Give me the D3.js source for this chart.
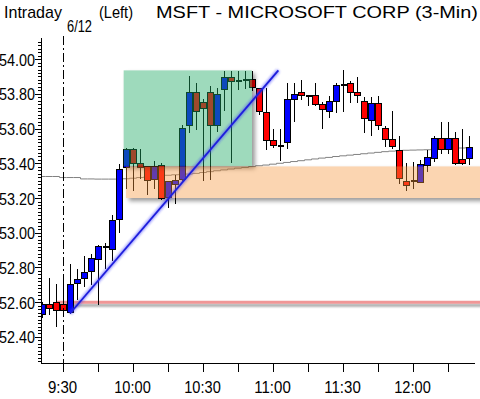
<!DOCTYPE html>
<html>
<head>
<meta charset="utf-8">
<script src="https://cdn.jsdelivr.net/npm/d3@7"></script>
<style>
body { margin: 0; background: #fff; }
svg { display: block; }
</style>
</head>
<body>
<div id="chart"></div>
<script>
// 3-min candles, MSFT 6/12
var times = ["9:21","9:24","9:27","9:30","9:33","9:36","9:39","9:42","9:45","9:48","9:51","9:54",
  "9:57","10:00","10:03","10:06","10:09","10:12","10:15","10:18","10:21","10:24","10:27","10:30",
  "10:33","10:36","10:39","10:42","10:45","10:48","10:51","10:54","10:57","11:00","11:03","11:06",
  "11:09","11:12","11:15","11:18","11:21","11:24","11:27","11:30","11:33","11:36","11:39","11:42",
  "11:45","11:48","11:51","11:54","11:57","12:00","12:03","12:06","12:09","12:12","12:15","12:18",
  "12:21","12:24"];
var opens = [52.53,52.585,52.60,52.585,52.54,52.705,52.735,52.775,52.845,52.918,52.905,53.075,
  53.375,53.48,53.40,53.38,53.305,53.385,53.205,53.28,53.305,53.62,53.805,53.75,
  53.805,53.62,53.825,53.895,53.872,53.882,53.885,53.83,53.695,53.53,53.50,53.52,
  53.77,53.805,53.79,53.79,53.74,53.70,53.757,53.853,53.86,53.805,53.755,53.645,
  53.745,53.60,53.535,53.475,53.295,53.296,53.29,53.385,53.43,53.545,53.48,53.545,
  53.42,53.425];
var highs = [52.60,52.74,52.705,52.72,52.82,52.79,52.865,52.88,52.93,52.94,53.10,53.395,
  53.49,53.49,53.48,53.385,53.415,53.40,53.30,53.33,53.62,53.905,53.865,53.77,
  53.845,53.835,53.93,53.93,53.93,53.93,53.93,53.835,53.835,53.60,53.595,53.86,
  53.86,53.88,53.795,53.865,53.755,53.785,53.86,53.94,53.872,53.895,53.78,53.78,
  53.79,53.615,53.70,53.56,53.40,53.41,53.42,53.475,53.56,53.64,53.64,53.58,
  53.60,53.56];
var lows = [52.51,52.525,52.46,52.53,52.535,52.615,52.69,52.70,52.585,52.79,52.835,53.00,
  53.25,53.24,53.31,53.215,53.25,53.19,53.14,53.165,53.30,53.575,53.59,53.30,
  53.305,53.58,53.70,53.40,53.82,53.83,53.815,53.68,53.475,53.49,53.415,53.48,
  53.64,53.765,53.73,53.73,53.60,53.66,53.69,53.695,53.75,53.75,53.575,53.56,
  53.59,53.495,53.48,53.28,53.24,53.25,53.285,53.35,53.405,53.455,53.455,53.39,
  53.39,53.39];
var closes = [52.585,52.565,52.555,52.555,52.70,52.73,52.77,52.85,52.92,52.918,53.07,53.365,
  53.48,53.40,53.375,53.30,53.38,53.195,53.295,53.30,53.60,53.805,53.70,53.715,
  53.62,53.795,53.895,53.87,53.872,53.882,53.835,53.70,53.53,53.50,53.50,53.765,
  53.795,53.79,53.79,53.74,53.71,53.755,53.847,53.853,53.81,53.79,53.66,53.745,
  53.615,53.535,53.497,53.315,53.275,53.296,53.395,53.435,53.545,53.48,53.545,53.40,
  53.40,53.49];
// grey average line, one value per candle
var avgLine = [53.324,53.324,53.324,53.318,53.318,53.318,53.310,53.310,53.309,53.309,53.309,53.309,
  53.311,53.314,53.318,53.321,53.324,53.327,53.331,53.334,53.336,53.338,53.342,53.347,
  53.352,53.357,53.362,53.367,53.372,53.376,53.381,53.386,53.390,53.395,53.400,53.405,
  53.410,53.415,53.420,53.425,53.430,53.434,53.439,53.443,53.447,53.451,53.455,53.459,
  53.463,53.467,53.470,53.474,53.475,53.476,53.477,53.478,53.480,53.482,53.484,53.486,
  53.488,53.490];

var yTicks = [52.40,52.60,52.80,53.00,53.20,53.40,53.60,53.80,54.00];
var xTicks = ["9:30","9:45","10:00","10:15","10:30","10:45","11:00","11:15","11:30","11:45","12:00","12:15"];
var xLabels = ["9:30","10:00","10:30","11:00","11:30","12:00"];

// drawn objects
var greenBoxTime = ["9:56","10:51"], greenBoxPrice = [53.385, 53.935];
var bandTime = ["9:57","12:30"], bandPrice = [53.20, 53.382];
var supportTime = ["9:27","12:30"], supportPrice = 52.60;
var trendTime = ["9:33","11:02.3"], trendPrice = [52.535, 53.935];

var W = 480, H = 399;
var toMin = function(s) { var p = s.split(":"); return +p[0] * 60 + +p[1]; };

var x = d3.scaleLinear().domain([toMin("9:21"), toMin("12:24")]).range([42, 469]);
var y = d3.scaleLinear().domain([52.25, 54.11]).range([363, 40]);

var svg = d3.select("#chart").append("svg").attr("width", W).attr("height", H);
var defs = svg.append("defs");

defs.append("clipPath").attr("id", "plot")
  .append("rect").attr("x", 41).attr("y", 30).attr("width", 440).attr("height", 333);

// shadow outside of a shape only
var fo = defs.append("filter").attr("id", "outShadow").attr("filterUnits", "userSpaceOnUse")
  .attr("x", 0).attr("y", 0).attr("width", W).attr("height", H);
fo.append("feGaussianBlur").attr("in", "SourceAlpha").attr("stdDeviation", 2).attr("result", "b");
fo.append("feOffset").attr("in", "b").attr("dx", 3).attr("dy", 3).attr("result", "o");
fo.append("feComposite").attr("in", "o").attr("in2", "SourceAlpha").attr("operator", "out").attr("result", "s");
fo.append("feFlood").attr("flood-color", "#000").attr("flood-opacity", 0.4).attr("result", "f");
fo.append("feComposite").attr("in", "f").attr("in2", "s").attr("operator", "in");

var fb = defs.append("filter").attr("id", "blur").attr("filterUnits", "userSpaceOnUse")
  .attr("x", 0).attr("y", 0).attr("width", W).attr("height", H);
fb.append("feGaussianBlur").attr("stdDeviation", 1.3);

var plot = svg.append("g").attr("clip-path", "url(#plot)");

// dashed date line
svg.append("line")
  .attr("x1", Math.round(x(toMin("9:30"))) + 0.5).attr("x2", Math.round(x(toMin("9:30"))) + 0.5)
  .attr("y1", 36).attr("y2", 363)
  .attr("stroke", "#000").attr("stroke-dasharray", "9,3,2,3");

// average line
var avgPts = avgLine.map(function(v, i) { return [x(toMin(times[i])), y(v)]; });
avgPts.unshift([41, y(avgLine[0])]);
avgPts.push([473, y(avgLine[avgLine.length - 1])]);
plot.append("path")
  .attr("d", d3.line().curve(d3.curveStep)(avgPts))
  .attr("fill", "none").attr("stroke", "#808080").attr("stroke-width", 1);

// support line with shadow
plot.append("line")
  .attr("x1", x(toMin(supportTime[0]))).attr("x2", x(toMin(supportTime[1])))
  .attr("y1", y(supportPrice) + 3).attr("y2", y(supportPrice) + 3)
  .attr("stroke", "#000").attr("stroke-opacity", 0.35).attr("stroke-width", 3)
  .attr("filter", "url(#blur)");
plot.append("line")
  .attr("x1", x(toMin(supportTime[0]))).attr("x2", x(toMin(supportTime[1])))
  .attr("y1", y(supportPrice)).attr("y2", y(supportPrice))
  .attr("stroke", "rgb(240,150,150)").attr("stroke-width", 3);

// candles
var candles = times.map(function(t, i) {
  return { t: toMin(t), o: opens[i], h: highs[i], l: lows[i], c: closes[i] };
});
var cg = plot.append("g").attr("shape-rendering", "crispEdges");
candles.forEach(function(d) {
  var px = Math.round(x(d.t)) + 0.5;
  cg.append("line").attr("x1", px).attr("x2", px)
    .attr("y1", y(d.h)).attr("y2", y(d.l)).attr("stroke", "#000");
  var top = y(Math.max(d.o, d.c)), bot = y(Math.min(d.o, d.c));
  if (bot - top < 1.5) {
    cg.append("rect").attr("x", px - 3).attr("y", (top + bot) / 2 - 1)
      .attr("width", 6).attr("height", 2).attr("fill", "#000");
  } else {
    cg.append("rect").attr("x", px - 3).attr("y", top)
      .attr("width", 6).attr("height", bot - top)
      .attr("fill", d.c >= d.o ? "#0000ff" : "#ff0000")
      .attr("stroke", "#000").attr("stroke-width", 1);
  }
});

// green box
var gb = { x0: x(toMin(greenBoxTime[0])), x1: x(toMin(greenBoxTime[1])),
           y0: y(greenBoxPrice[1]), y1: y(greenBoxPrice[0]) };
plot.append("rect").attr("x", gb.x0).attr("y", gb.y0)
  .attr("width", gb.x1 - gb.x0).attr("height", gb.y1 - gb.y0)
  .attr("fill", "#000").attr("filter", "url(#outShadow)");
plot.append("rect").attr("x", gb.x0).attr("y", gb.y0)
  .attr("width", gb.x1 - gb.x0).attr("height", gb.y1 - gb.y0)
  .attr("fill", "rgb(30,170,100)").attr("fill-opacity", 0.43);

// tan band
var bd = { x0: x(toMin(bandTime[0])), x1: x(toMin(bandTime[1])),
           y0: y(bandPrice[1]), y1: y(bandPrice[0]) };
plot.append("rect").attr("x", bd.x0).attr("y", bd.y0)
  .attr("width", bd.x1 - bd.x0).attr("height", bd.y1 - bd.y0)
  .attr("fill", "#000").attr("filter", "url(#outShadow)");
plot.append("rect").attr("x", bd.x0).attr("y", bd.y0)
  .attr("width", bd.x1 - bd.x0).attr("height", bd.y1 - bd.y0)
  .attr("fill", "rgb(245,150,60)").attr("fill-opacity", 0.4);

// trend line
var tl = [[x(toMin(trendTime[0])), y(trendPrice[0])], [x(toMin(trendTime[1])), y(trendPrice[1])]];
plot.append("path").attr("d", d3.line()(tl))
  .attr("stroke", "rgb(60,60,255)").attr("stroke-width", 4).attr("stroke-opacity", 0.5)
  .attr("filter", "url(#blur)");
plot.append("path").attr("d", d3.line()(tl))
  .attr("stroke", "rgb(30,30,220)").attr("stroke-width", 1.8);

// axes
var font = "'Liberation Sans', Arial, sans-serif";

var minor = d3.range(52.26, 54.115, 0.02);
svg.append("g").attr("transform", "translate(41,0)")
  .call(d3.axisLeft(y).tickValues(minor).tickSize(3).tickSizeOuter(0).tickFormat(""))
  .attr("shape-rendering", "crispEdges")
  .call(function(g) { g.select(".domain").remove(); });

var yAx = svg.append("g").attr("transform", "translate(41,0)")
  .call(d3.axisLeft(y).tickValues(yTicks).tickSize(6).tickSizeOuter(0).tickFormat(d3.format(".2f")))
  .attr("shape-rendering", "crispEdges");
yAx.select(".domain").remove();
yAx.selectAll("text")
  .attr("x", -6).attr("y", 6).attr("dy", 0)
  .attr("font-family", font).attr("font-size", 16).attr("fill", "#000")
  .attr("textLength", 36).attr("lengthAdjust", "spacingAndGlyphs");

var xAx = svg.append("g").attr("transform", "translate(0,363)")
  .call(d3.axisBottom(x).tickValues(xTicks.map(toMin)).tickSize(9).tickSizeOuter(0)
    .tickFormat(function(m) {
      var s = Math.floor(m / 60) + ":" + d3.format("02")(m % 60);
      return xLabels.indexOf(s) >= 0 ? s : "";
    }))
  .attr("shape-rendering", "crispEdges");
xAx.select(".domain").remove();
xAx.selectAll("text")
  .attr("x", -1).attr("y", 30).attr("dy", 0)
  .attr("font-family", font).attr("font-size", 17).attr("fill", "#000")
  .each(function() {
    var t = d3.select(this).text();
    if (t) d3.select(this).attr("textLength", t.length * 7.3).attr("lengthAdjust", "spacingAndGlyphs");
  });

svg.append("line").attr("x1", 41).attr("x2", 41).attr("y1", 38).attr("y2", 363.5)
  .attr("stroke", "#000").attr("shape-rendering", "crispEdges");
svg.append("line").attr("x1", 41).attr("x2", 475).attr("y1", 363.5).attr("y2", 363.5)
  .attr("stroke", "#000").attr("shape-rendering", "crispEdges");

// titles
var titles = [
  { t: "Intraday", x: 4, y: 18, w: 58 },
  { t: "(Left)", x: 99, y: 18, w: 34 },
  { t: "MSFT - MICROSOFT CORP (3-Min)", x: 156, y: 18, w: 322 },
  { t: "6/12", x: 67, y: 32, w: 25 }
];
svg.selectAll("text.title").data(titles).enter().append("text")
  .attr("class", "title")
  .attr("x", function(d) { return d.x; }).attr("y", function(d) { return d.y; })
  .attr("font-family", font).attr("font-size", 17).attr("fill", "#000")
  .attr("textLength", function(d) { return d.w; }).attr("lengthAdjust", "spacingAndGlyphs")
  .text(function(d) { return d.t; });
</script>
</body>
</html>
